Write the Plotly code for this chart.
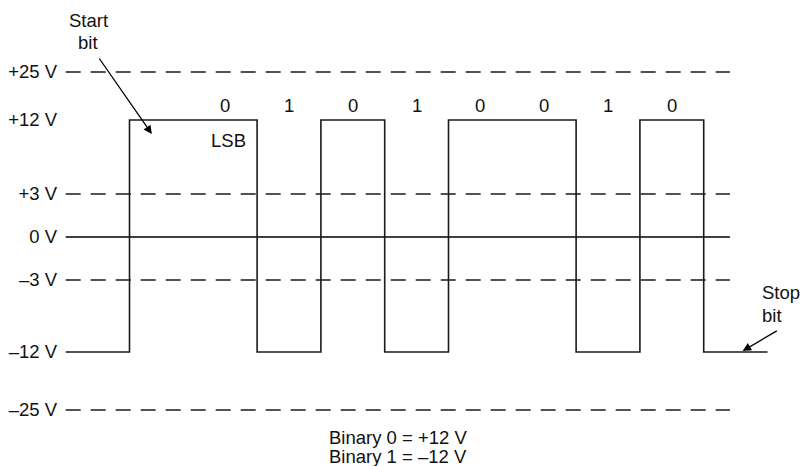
import plotly.graph_objects as go

# RS-232 frame: idle, start bit, 8 data bits (LSB first), stop bit
data_bits = [0, 1, 0, 1, 0, 0, 1, 0]
frame_bits = [1, 0] + data_bits + [1]          # idle(1), start(0), data, stop(1)
bit_volts = {0: 12, 1: -12}

# voltage levels and their rows on the schematic (not a linear scale)
levels = [25, 12, 3, 0, -3, -12, -25]
level_rows = [72, 120, 194, 237, 280, 352, 410]
level_text = ["+25 V", "+12 V", "+3 V", "0 V", "\u20133 V", "\u201312 V", "\u201325 V"]
dashed_levels = [25, 3, -3, -25]
row = dict(zip(levels, level_rows))

t = list(range(-1, len(frame_bits)))           # bit boundaries
volts = [bit_volts[b] for b in frame_bits]
wave_x = t + [len(frame_bits) - 1]
wave_y = [row[v] for v in volts] + [row[volts[-1]]]

line_end = 9.41
ink = "#1a1a1a"
font = dict(family="Liberation Sans, Arial, sans-serif", size=18.5, color="#111111")

fig = go.Figure()

# reference levels
for lv in dashed_levels:
    fig.add_trace(go.Scatter(x=[-1, line_end], y=[row[lv], row[lv]], mode="lines",
                             line=dict(color=ink, width=1.3, dash="15px,10px"),
                             hoverinfo="skip", showlegend=False))
fig.add_trace(go.Scatter(x=[-1, line_end], y=[row[0], row[0]], mode="lines",
                         line=dict(color="#000000", width=1.3),
                         hoverinfo="skip", showlegend=False))

# the waveform
fig.add_trace(go.Scatter(x=wave_x, y=wave_y, mode="lines", line_shape="hv",
                         line=dict(color=ink, width=1.6), showlegend=False))

# bit values above each data cell
for i, b in enumerate(data_bits):
    fig.add_annotation(x=i + 1.5, y=105, text=str(b), showarrow=False, font=font)
fig.add_annotation(x=1.55, y=140, text="LSB", showarrow=False, font=font)

# start / stop labels with arrows
fig.add_annotation(x=-0.65, y=20, text="Start", showarrow=False, font=font)
fig.add_annotation(x=-0.65, y=42, text="bit", showarrow=False, font=font)
fig.add_annotation(x=0.35, y=134, ax=-0.49, ay=57, xref="x", yref="y", axref="x", ayref="y",
                   text="", showarrow=True, arrowhead=2, arrowsize=1.3, arrowwidth=1.3,
                   arrowcolor="#000000")
fig.add_annotation(x=9.88, y=292, text="Stop", showarrow=False, xanchor="left", font=font)
fig.add_annotation(x=9.88, y=315, text="bit", showarrow=False, xanchor="left", font=font)
fig.add_annotation(x=9.61, y=351, ax=10.17, ay=330, xref="x", yref="y", axref="x", ayref="y",
                   text="", showarrow=True, arrowhead=2, arrowsize=1.3, arrowwidth=1.3,
                   arrowcolor="#000000")

# legend text at the bottom
fig.add_annotation(x=4.21, y=437, text="Binary 0 = +12 V", showarrow=False, font=font)
fig.add_annotation(x=4.21, y=456, text="Binary 1 = \u201312 V", showarrow=False, font=font)

# page body has an 8px margin, so the figure is drawn 8px in from the window edge
fig.update_layout(
    width=802, height=458,
    margin=dict(l=54, r=0, t=0, b=0),
    paper_bgcolor="white", plot_bgcolor="white",
    font=font,
    xaxis=dict(range=[-1.058, 10.666], visible=False),
    yaxis=dict(range=[466, 8], tickvals=level_rows, ticktext=level_text,
               showgrid=False, zeroline=False, showline=False, ticks="",
               ticklabelstandoff=4, tickfont=font),
)

fig.write_html("out.html")
